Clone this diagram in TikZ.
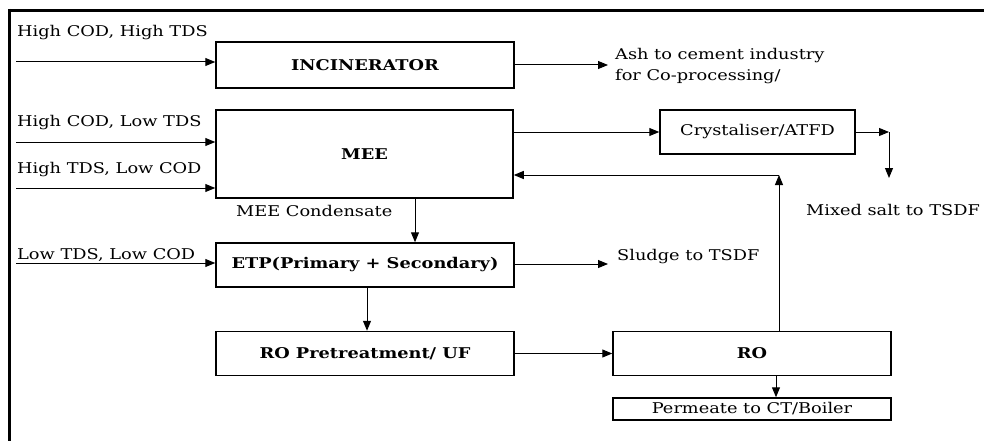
\documentclass[tikz,border=0pt]{standalone}
\usepackage{fontspec}
\setmainfont[FakeStretch=1.2]{DejaVu Serif}
\usetikzlibrary{arrows.meta,calc}
\begin{document}
\begin{tikzpicture}[x=1pt,y=-1pt,
  box/.style={draw,line width=1.5pt,rectangle,inner sep=0pt,font=\fontsize{14.8}{17}\selectfont\bfseries},
  nbox/.style={draw,line width=1.5pt,rectangle,inner sep=0pt,font=\fontsize{14.8}{17}\selectfont},
  lab/.style={inner sep=0pt,anchor=base west,font=\fontsize{14.8}{17}\selectfont},
  conn/.style={line width=1pt,-{Triangle[length=10pt,width=8pt]}}]
\useasboundingbox (0,0) rectangle (984,441);
\fill[white] (0,0) rectangle (984,441);
% frame
\draw[line width=3.5pt] (8,10.5) -- (984,10.5);
\draw[line width=3.5pt] (9.5,9) -- (9.5,441);
% boxes
\node[box,minimum width=298pt,minimum height=46pt] (inc) at (365,65) {INCINERATOR};
\node[box,minimum width=297pt,minimum height=88pt] (mee) at (364.5,154) {MEE};
\node[nbox,minimum width=195pt,minimum height=44pt] (crys) at (757.5,132) {Crystaliser/ATFD};
\node[box,minimum width=298pt,minimum height=44pt] (etp) at (365,265) {ETP(Primary + Secondary)};
\node[box,minimum width=298pt,minimum height=44pt] (ropre) at (365,353.5) {RO Pretreatment/ UF};
\node[box,minimum width=278pt,minimum height=44pt] (ro) at (752,353.5) {RO};
\node[nbox,minimum width=278pt,minimum height=22pt] (perm) at (752,409) {Permeate to CT/Boiler};
% labels
\node[lab] (l1) at (17,37) {High COD, High TDS};
\node[lab] (l2) at (17,127) {High COD, Low TDS};
\node[lab] (l3) at (17,173) {High TDS, Low COD};
\node[lab] (l4) at (17,259) {Low TDS, Low COD};
\node[lab] (l5) at (236,216) {MEE Condensate};
\node[lab] (l6) at (615,60) {Ash to cement industry};
\node[lab] (l7) at (615,81) {for Co-processing/};
\node[lab] (l8) at (806,215) {Mixed salt to TSDF};
\node[lab] (l9) at (617,260) {Sludge to TSDF};
% coordinates
\coordinate (i1) at (16,62);
\coordinate (i2) at (16,142);
\coordinate (i3) at (16,188);
\coordinate (i4) at (16,263);
\coordinate (ash) at (608,65);
\coordinate (sl) at (608,264);
\coordinate (cc) at (889,132);
\coordinate (cd) at (889,178);
\coordinate (rt) at (779,175);
% connectors
\draw[conn] (i1) -- (i1 -| inc.west);
\draw[conn] (i2) -- (i2 -| mee.west);
\draw[conn] (i3) -- (i3 -| mee.west);
\draw[conn] (i4) -- (i4 -| etp.west);
\draw[conn] (inc.east |- ash) -- (ash);
\draw[conn] (mee.east |- crys.west) -- (crys.west);
\draw[conn] (crys.east) -- (cc);
\draw[conn] (cc) -- (cd);
\draw[conn] (ro.north -| rt) -- (rt);
\draw[conn] (rt) -- (rt -| mee.east);
\draw[conn] (mee.south -| 415,0) -- (etp.north -| 415,0);
\draw[conn] (etp.east |- sl) -- (sl);
\draw[conn] (etp.south -| 367,0) -- (ropre.north -| 367,0);
\draw[conn] (ropre.east) -- (ro.west);
\draw[conn] (ro.south -| 776,0) -- (perm.north -| 776,0);
\end{tikzpicture}
\end{document}
